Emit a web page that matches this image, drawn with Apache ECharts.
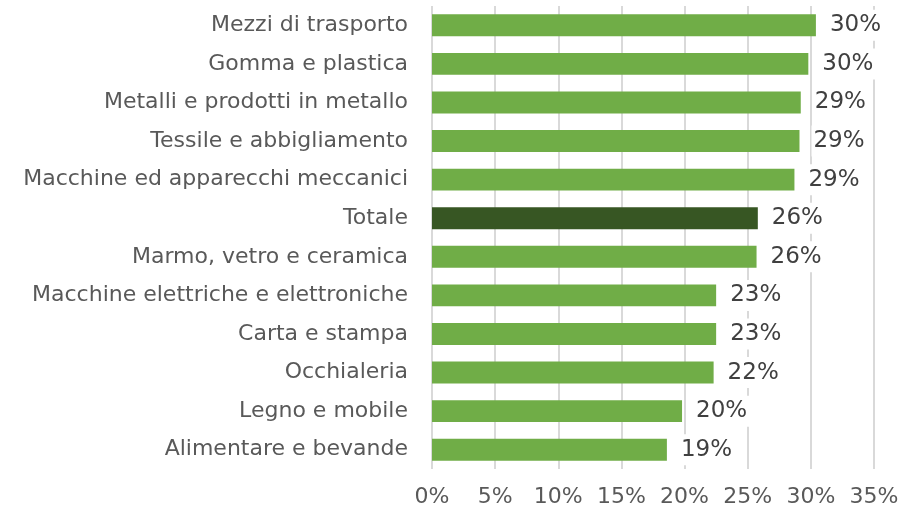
<!DOCTYPE html>
<html>
<head>
<meta charset="utf-8">
<script src="https://cdn.jsdelivr.net/npm/echarts@6/dist/echarts.min.js"></script>
<style>
  html, body { margin: 0; padding: 0; background: #fff; }
  #chart { width: 904px; height: 514px; }
</style>
</head>
<body>
<div id="chart"></div>
<script>
// categories listed bottom to top (category axis draws first item at the bottom)
const categories = [
  'Alimentare e bevande',
  'Legno e mobile',
  'Occhialeria',
  'Carta e stampa',
  'Macchine elettriche e elettroniche',
  'Marmo, vetro e ceramica',
  'Totale',
  'Macchine ed apparecchi meccanici',
  'Tessile e abbigliamento',
  'Metalli e prodotti in metallo',
  'Gomma e plastica',
  'Mezzi di trasporto'
];
const values = [18.6, 19.8, 22.3, 22.5, 22.5, 25.7, 25.8, 28.7, 29.1, 29.2, 29.8, 30.4];
const highlight = 'Totale';

const xTicks = [0, 5, 10, 15, 20, 25, 30, 35];

const chart = echarts.init(document.getElementById('chart'));

const font = 'DejaVu Sans';

chart.setOption({
  animation: false,
  backgroundColor: '#fff',
  grid: {
    left: 432,
    right: 30,
    top: 6,
    bottom: 45
  },
  xAxis: {
    type: 'value',
    min: xTicks[0],
    max: xTicks[xTicks.length - 1],
    interval: 5,
    axisLine: { show: false },
    axisTick: { show: false },
    splitLine: { lineStyle: { color: '#d9d9d9', width: 2 } },
    axisLabel: {
      margin: 17,
      color: '#595959',
      fontFamily: font,
      fontSize: 22,
      formatter: v => v + '%'
    }
  },
  yAxis: {
    type: 'category',
    data: categories,
    axisLine: { show: false },
    axisTick: { show: false },
    axisLabel: {
      margin: 24,
      color: '#595959',
      fontFamily: font,
      fontSize: 22
    }
  },
  series: [{
    type: 'bar',
    barWidth: '57%',
    data: values.map((v, i) => ({
      value: v,
      itemStyle: { color: categories[i] === highlight ? '#375623' : '#70ad47' }
    })),
    label: {
      show: true,
      position: 'right',
      distance: 12,
      color: '#404040',
      fontFamily: font,
      fontSize: 23,
      backgroundColor: '#fff',
      padding: [4, 6, 4, 2],
      formatter: p => Math.round(p.value) + '%'
    }
  }]
});
</script>
</body>
</html>
